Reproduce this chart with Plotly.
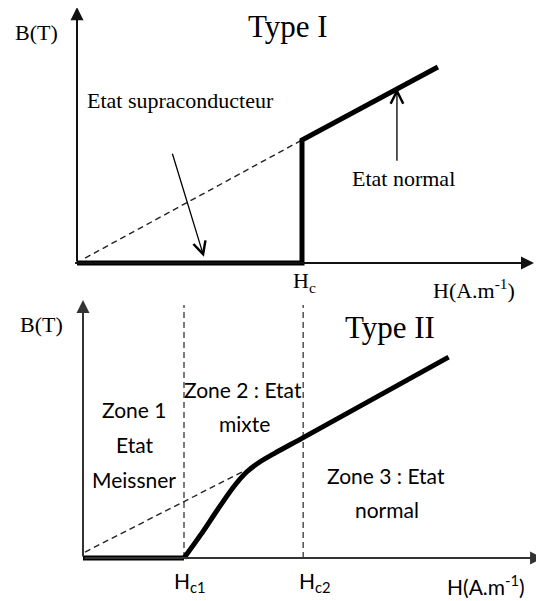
import plotly.graph_objects as go

# ---- Type I (H in units of Hc, B in units of mu0*Hc) ----
h1_state = [0, 1.0, 1.0, 1.604]
b1_state = [0, 0, 1.0, 1.593]
h1_dash = [0.036, 1.0]
b1_dash = [0.04, 1.0]
h1_axis_end = 2.031
b1_axis_end = 2.08

# ---- Type II (H in units of Hc1, B in units of mu0*Hc1) ----
h2_meissner = [0, 1.0]
b2_meissner = [0, 0]
h2_curve = [1.0, 1.17, 1.33, 1.49, 1.62, 1.75, 1.9, 2.18, 3.62]
b2_curve = [0, 0.43, 0.865, 1.28, 1.55, 1.73, 1.89, 2.17, 3.62]
h2_dash = [0.02, 1.574]
b2_dash = [0.108, 1.55]
hc1, hc2 = 1.0, 2.18
b2_vline_top = 4.56
h2_axis_end = 4.555
b2_axis_end = 4.65

W, H = 544, 601
PAGE_PAD = 8  # default body margin of the html page
# pixel calibration of each panel: origin and px per unit
top = dict(ox=77, oy=263, sx=225, sy=123)
bot = dict(ox=83, oy=558, sx=101, sy=55.5)


def ranges(p):
    xr = [(PAGE_PAD - p["ox"]) / p["sx"], (W - p["ox"]) / p["sx"]]
    yr = [(p["oy"] - H) / p["sy"], (p["oy"] - PAGE_PAD) / p["sy"]]
    return xr, yr


SERIF = "Liberation Serif"
SANS = "Lato"

fig = go.Figure()

# Type I
fig.add_trace(go.Scatter(x=h1_dash, y=b1_dash, mode="lines",
                         line=dict(color="#222", width=1.4, dash="6px,4px")))
fig.add_trace(go.Scatter(x=h1_state, y=b1_state, mode="lines",
                         line=dict(color="black", width=5)))

# Type II
for hc in (hc1, hc2):
    fig.add_trace(go.Scatter(x=[hc, hc], y=[0, b2_vline_top], mode="lines",
                             xaxis="x2", yaxis="y2",
                             line=dict(color="#444", width=1.4, dash="6px,4px")))
fig.add_trace(go.Scatter(x=h2_dash, y=b2_dash, mode="lines", xaxis="x2", yaxis="y2",
                         line=dict(color="#222", width=1.4, dash="6px,4px")))
fig.add_trace(go.Scatter(x=h2_meissner, y=b2_meissner, mode="lines", xaxis="x2", yaxis="y2",
                         line=dict(color="black", width=5)))
fig.add_trace(go.Scatter(x=h2_curve, y=b2_curve, mode="lines", xaxis="x2", yaxis="y2",
                         line=dict(color="black", width=5, shape="spline", smoothing=0.7)))

ann = []


def arrow(x, y, ax, ay, panel, width, head, size, color="black"):
    xr, yr = ("x", "y") if panel == 1 else ("x2", "y2")
    ann.append(dict(x=x, y=y, ax=ax, ay=ay, xref=xr, yref=yr, axref=xr, ayref=yr,
                    text="", showarrow=True, arrowhead=head, arrowsize=size,
                    arrowwidth=width, arrowcolor=color, standoff=0, startstandoff=0))


def label(x, y, txt, panel, font, size):
    xr, yr = ("x", "y") if panel == 1 else ("x2", "y2")
    ann.append(dict(x=x, y=y, xref=xr, yref=yr, text=txt, showarrow=False,
                    xanchor="center", yanchor="middle",
                    font=dict(family=font, size=size, color="black")))


# axes
arrow(h1_axis_end, 0, -0.015, 0, 1, 2, 2, 1.3, "#111")
arrow(0, b1_axis_end, 0, 0, 1, 2, 2, 1.3, "#111")
arrow(h2_axis_end, 0, 0, 0, 2, 2, 2, 1.3, "#333")
arrow(0, b2_axis_end, 0, 0, 2, 2, 2, 1.3, "#333")

# pointer arrows (type I)
arrow(0.564, 0.05, 0.422, 0.90, 1, 1.3, 5, 1.9)
arrow(1.422, 1.42, 1.422, 0.82, 1, 1.3, 5, 1.9)

# type I labels
label(0.938, 1.92, "Type I", 1, SERIF, 31)
label(-0.182, 1.87, "B(T)", 1, SERIF, 22)
label(0.462, 1.325, "Etat supraconducteur", 1, SERIF, 22)
label(1.449, 0.683, "Etat normal", 1, SERIF, 22)
label(1.009, -0.154, "H<sub>c</sub>", 1, SERIF, 22)
label(1.764, -0.21, "H(A.m<sup>-1</sup>)", 1, SERIF, 22)

# type II labels
label(-0.406, 4.20, "B(T)", 2, SERIF, 22)
label(3.04, 4.16, "Type II", 2, SERIF, 31)
label(0.505, 2.667, "Zone 1", 2, SANS, 21)
label(0.505, 2.054, "Etat", 2, SANS, 21)
label(0.505, 1.423, "Meissner", 2, SANS, 21)
label(1.587, 3.045, "Zone 2 : Etat", 2, SANS, 21)
label(1.597, 2.43, "mixte", 2, SANS, 21)
label(3.0, 1.495, "Zone 3 : Etat", 2, SANS, 21)
label(3.01, 0.865, "normal", 2, SANS, 21)
label(1.059, -0.432, "H<sub>c1</sub>", 2, SANS, 21)
label(2.297, -0.432, "H<sub>c2</sub>", 2, SANS, 21)
label(3.99, -0.486, "H(A.m<sup>-1</sup>)", 2, SANS, 21)

x1r, y1r = ranges(top)
x2r, y2r = ranges(bot)
fig.update_layout(
    width=W - PAGE_PAD, height=H - PAGE_PAD, autosize=False,
    margin=dict(l=0, r=0, t=0, b=0),
    paper_bgcolor="white", plot_bgcolor="white",
    showlegend=False,
    xaxis=dict(range=x1r, visible=False, fixedrange=True),
    yaxis=dict(range=y1r, visible=False, fixedrange=True),
    xaxis2=dict(range=x2r, visible=False, overlaying="x", fixedrange=True),
    yaxis2=dict(range=y2r, visible=False, overlaying="y", fixedrange=True),
    annotations=ann,
)

fig.write_html("out.html")
